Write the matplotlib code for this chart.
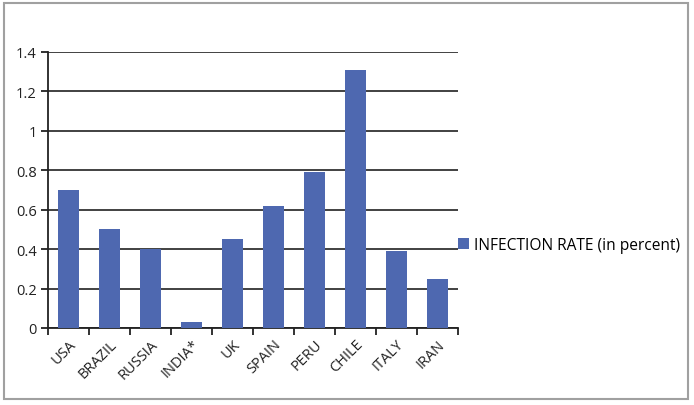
import numpy as np
import matplotlib.pyplot as plt
from matplotlib.patches import Rectangle

countries = ['USA', 'BRAZIL', 'RUSSIA', 'INDIA*', 'UK', 'SPAIN', 'PERU', 'CHILE', 'ITALY', 'IRAN']
infection_rate = [0.70, 0.50, 0.40, 0.03, 0.45, 0.62, 0.79, 1.31, 0.39, 0.25]
yticks = [0, 0.2, 0.4, 0.6, 0.8, 1, 1.2, 1.4]
ytick_labels = ['0', '0.2', '0.4', '0.6', '0.8', '1', '1.2', '1.4']

plt.rcParams['font.family'] = ['Open Sans', 'DejaVu Sans']

fig = plt.figure(figsize=(6.94, 4.06), dpi=100)
ax = fig.add_axes([48/694, 1 - 329/406, 410/694, 276/406])

x = np.arange(len(countries))
bars = ax.bar(x, infection_rate, width=0.5, color='#4E68B0', zorder=3,
              label='INFECTION RATE (in percent)')

ax.set_xlim(-0.5, len(countries) - 0.5)
ax.set_ylim(0, 1.4)
ax.set_yticks(yticks)
ax.set_yticklabels(ytick_labels, fontsize=10.5, color='#222222')
ax.yaxis.grid(True, color='#333333', linewidth=1.3, zorder=0)

# category ticks sit between the bars
ax.set_xticks(np.arange(len(countries) + 1) - 0.5)
ax.set_xticklabels([])
ax.set_xticks(x, minor=True)
ax.set_xticklabels(countries, minor=True, rotation=45, ha='right',
                   rotation_mode='anchor', fontsize=10.5, color='#222222')
ax.tick_params(axis='x', which='minor', length=0, pad=6)
ax.tick_params(axis='x', which='major', length=5, width=1.3, color='#222222')
ax.tick_params(axis='y', length=5, width=1.3, color='#222222', pad=3)

for side in ['top', 'right']:
    ax.spines[side].set_visible(False)
for side in ['left', 'bottom']:
    ax.spines[side].set_color('#222222')
    ax.spines[side].set_linewidth(1.3)

leg = ax.legend(loc='center left', bbox_to_anchor=(1.0, 0.3), frameon=False,
                fontsize=11.2, handlelength=0.7, handleheight=0.7, handletextpad=0.3,
                borderaxespad=0, borderpad=0)

fig.patches.append(Rectangle((4/694, 6/406), 684/694, 396/406, transform=fig.transFigure,
                             fill=False, edgecolor='#a0a0a0', linewidth=1.5))

fig.savefig('out.png', dpi=100)
